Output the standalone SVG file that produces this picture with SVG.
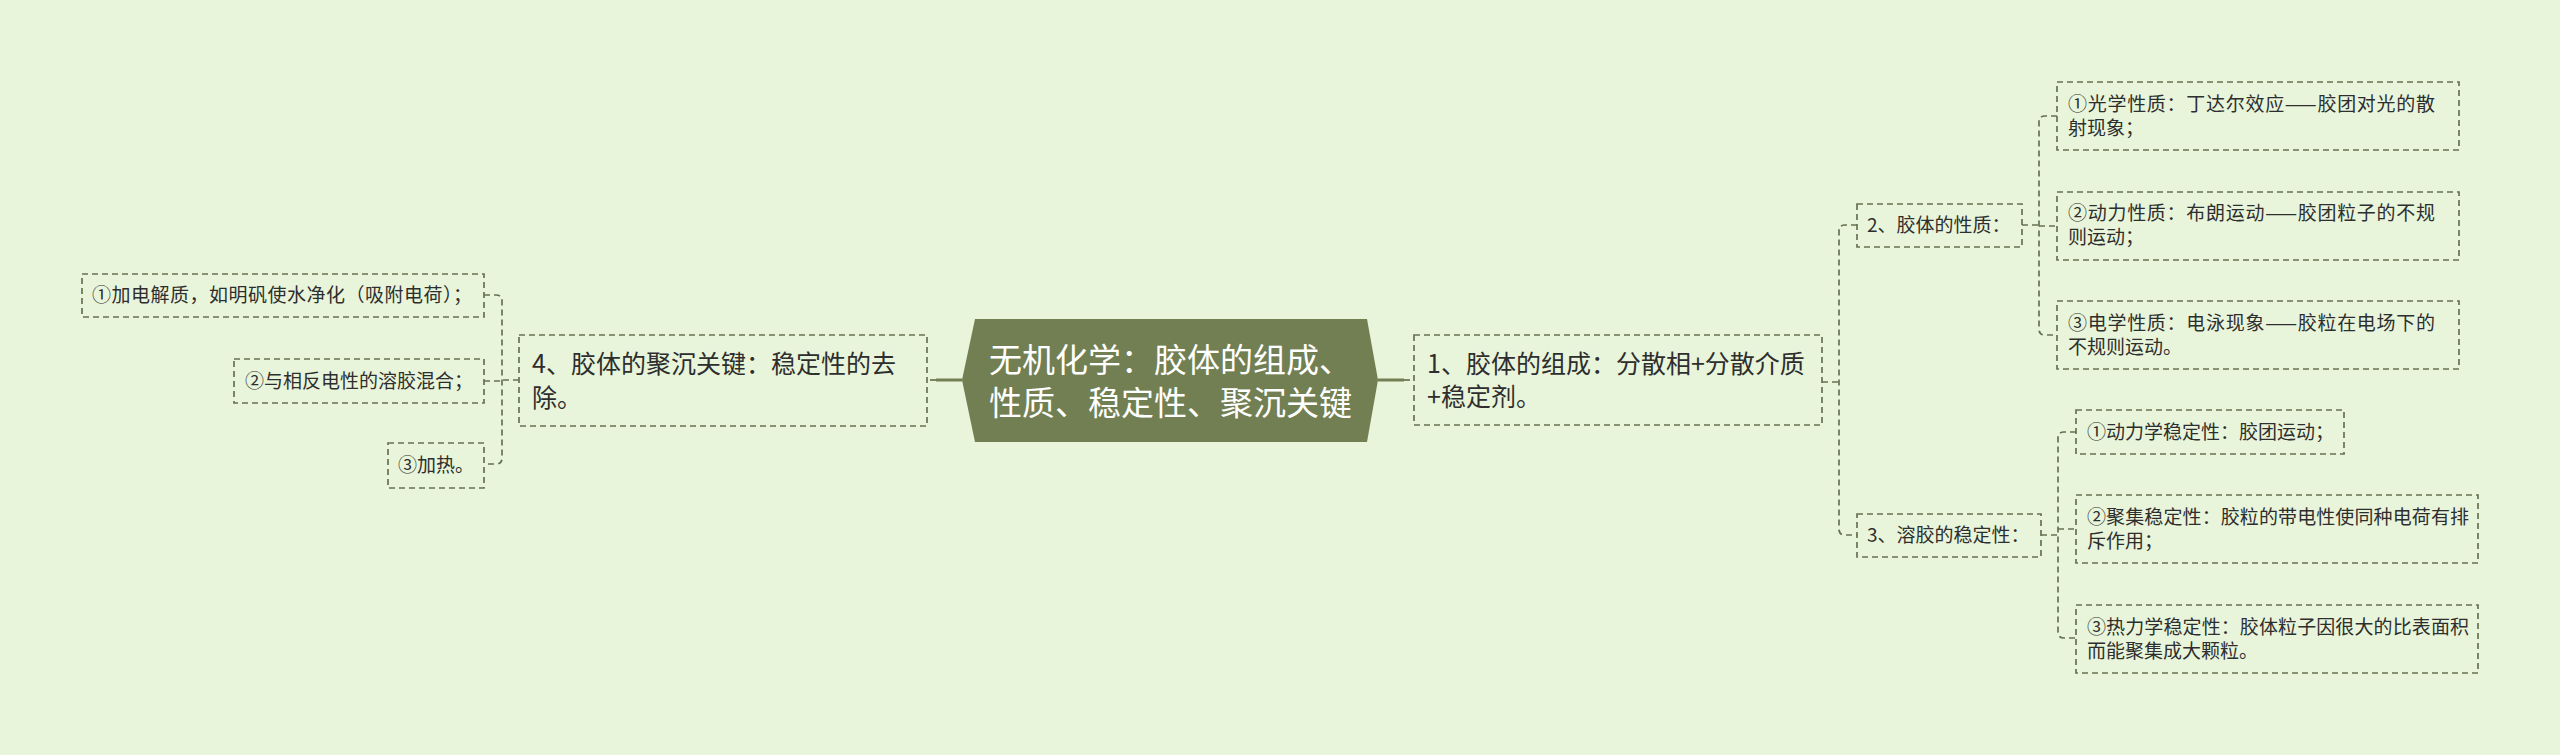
<svg xmlns="http://www.w3.org/2000/svg" width="2560" height="755" viewBox="0 0 2560 755">
<style>
.bg{fill:#E8F5DB}
.box{fill:none;stroke:#667150;stroke-width:1.7;stroke-dasharray:6 4}
.con{fill:none;stroke:#667150;stroke-width:1.7;stroke-dasharray:6 4}
.solid{fill:none;stroke:#727F52;stroke-width:3}
.t{font-family:"Noto Sans CJK SC","Noto Sans",sans-serif;fill:#2e2e2e}
.s{font-size:19px}
.m{font-size:25px}
.c{font-family:"Noto Sans CJK SC","Noto Sans",sans-serif;fill:#ffffff;font-size:33px}
</style>
<rect class="bg" x="0" y="0" width="2560" height="755"/>
<g id="connectors">
<path class="solid" d="M962 380 H936"/>
<path class="con" d="M936 380 H927"/>
<path class="solid" d="M1378 380 H1404"/>
<path class="con" d="M1404 380 H1414"/>
<path class="con" d="M519 380 H502"/>
<path class="con" d="M484 295 H496 Q502 295 502 301 V458 Q502 464 496 464 H484"/>
<path class="con" d="M484 381 H502"/>
<path class="con" d="M1822 382 H1839"/>
<path class="con" d="M1857 225 H1845 Q1839 225 1839 231 V529 Q1839 535 1845 535 H1857"/>
<path class="con" d="M2022 225 H2039"/>
<path class="con" d="M2057 116 H2045 Q2039 116 2039 122 V329 Q2039 335 2045 335 H2057"/>
<path class="con" d="M2039 226 H2057"/>
<path class="con" d="M2041 535 H2058"/>
<path class="con" d="M2076 432 H2064 Q2058 432 2058 438 V632 Q2058 638 2064 638 H2076"/>
<path class="con" d="M2058 529 H2076"/>
</g>
<g id="center">
<polygon points="975,319 1367,319 1378,380 1367,442 975,442 962,380" fill="#727F52"/>
<text class="c" x="989" y="372">无机化学：胶体的组成、</text>
<text class="c" x="989" y="415">性质、稳定性、聚沉关键</text>
</g>
<g id="n1">
<rect class="box" x="1414" y="335" width="408" height="90"/>
<text class="t m" x="1427" y="373">1、胶体的组成：分散相+分散介质</text>
<text class="t m" x="1427" y="406">+稳定剂。</text>
</g>
<g id="n2">
<rect class="box" x="1857" y="204" width="165" height="43"/>
<text class="t s" x="1867" y="232">2、胶体的性质：</text>
</g>
<g id="n2-1">
<rect class="box" x="2057" y="82" width="402" height="68"/>
<text class="t s" x="2068" y="111" textLength="367">①光学性质：丁达尔效应——胶团对光的散</text>
<text class="t s" x="2068" y="135">射现象；</text>
</g>
<g id="n2-2">
<rect class="box" x="2057" y="192" width="402" height="68"/>
<text class="t s" x="2068" y="220" textLength="367">②动力性质：布朗运动——胶团粒子的不规</text>
<text class="t s" x="2068" y="244">则运动；</text>
</g>
<g id="n2-3">
<rect class="box" x="2057" y="301" width="402" height="68"/>
<text class="t s" x="2068" y="330" textLength="367">③电学性质：电泳现象——胶粒在电场下的</text>
<text class="t s" x="2068" y="354">不规则运动。</text>
</g>
<g id="n3">
<rect class="box" x="1857" y="514" width="184" height="43"/>
<text class="t s" x="1867" y="542">3、溶胶的稳定性：</text>
</g>
<g id="n3-1">
<rect class="box" x="2076" y="410" width="268" height="44"/>
<text class="t s" x="2087" y="439">①动力学稳定性：胶团运动；</text>
</g>
<g id="n3-2">
<rect class="box" x="2076" y="495" width="402" height="68"/>
<text class="t s" x="2087" y="524" textLength="382">②聚集稳定性：胶粒的带电性使同种电荷有排</text>
<text class="t s" x="2087" y="548">斥作用；</text>
</g>
<g id="n3-3">
<rect class="box" x="2076" y="605" width="402" height="68"/>
<text class="t s" x="2087" y="634" textLength="382">③热力学稳定性：胶体粒子因很大的比表面积</text>
<text class="t s" x="2087" y="658">而能聚集成大颗粒。</text>
</g>
<g id="n4">
<rect class="box" x="519" y="335" width="408" height="91"/>
<text class="t m" x="532" y="373">4、胶体的聚沉关键：稳定性的去</text>
<text class="t m" x="532" y="407">除。</text>
</g>
<g id="n4-1">
<rect class="box" x="82" y="274" width="402" height="43"/>
<text class="t s" x="92" y="302" textLength="380">①加电解质，如明矾使水净化（吸附电荷）；</text>
</g>
<g id="n4-2">
<rect class="box" x="234" y="359" width="250" height="44"/>
<text class="t s" x="245" y="388">②与相反电性的溶胶混合；</text>
</g>
<g id="n4-3">
<rect class="box" x="388" y="443" width="96" height="45"/>
<text class="t s" x="398" y="472">③加热。</text>
</g>
</svg>
